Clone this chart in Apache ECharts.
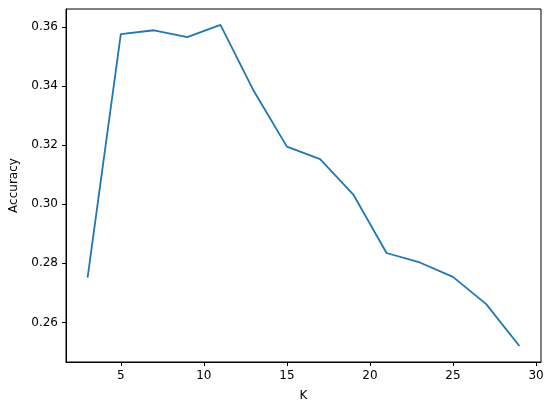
<!DOCTYPE html>
<html>
<head>
<meta charset="utf-8">
<script src="https://cdn.jsdelivr.net/npm/echarts@6/dist/echarts.min.js"></script>
<style>html,body{margin:0;padding:0;background:#fff}#c{width:550px;height:407px}</style>
</head>
<body>
<div id="c"></div>
<script>
const kValues = [3, 5, 7, 9, 11, 13, 15, 17, 19, 21, 23, 25, 27, 29];
const accuracy = [0.2752, 0.3576, 0.3589, 0.3566, 0.3607, 0.3384, 0.3195, 0.3153, 0.3033, 0.2835, 0.2803, 0.2754, 0.2662, 0.2520];
const xTicks = [5, 10, 15, 20, 25, 30];
const yTicks = [0.26, 0.28, 0.30, 0.32, 0.34, 0.36];

const font = 'DejaVu Sans';
const chart = echarts.init(document.getElementById('c'), null, {renderer: 'canvas'});
chart.setOption({
  animation: false,
  backgroundColor: '#fff',
  grid: {left: 66, right: 9, top: 9, bottom: 45, show: true, borderColor: '#000', borderWidth: 1, backgroundColor: 'transparent'},
  xAxis: {
    type: 'value', min: 1.7, max: 30.3,
    name: 'K', nameLocation: 'middle', nameGap: 28,
    nameTextStyle: {fontFamily: font, fontSize: 12, color: '#000'},
    axisLine: {show: true, onZero: false, lineStyle: {color: '#000', width: 1}},
    axisTick: {show: true, length: 4, inside: false, customValues: xTicks, lineStyle: {color: '#000'}},
    axisLabel: {customValues: xTicks, margin: 8, fontFamily: font, fontSize: 12, color: '#000', formatter: v => String(v)},
    splitLine: {show: false}
  },
  yAxis: {
    type: 'value', min: 0.2466, max: 0.3661,
    name: 'Accuracy', nameLocation: 'middle', nameGap: 46,
    nameTextStyle: {fontFamily: font, fontSize: 12, color: '#000'},
    axisLine: {show: true, onZero: false, lineStyle: {color: '#000', width: 1}},
    axisTick: {show: true, length: 4, inside: false, customValues: yTicks, lineStyle: {color: '#000'}},
    axisLabel: {customValues: yTicks, margin: 8, fontFamily: font, fontSize: 12, color: '#000', formatter: v => v.toFixed(2)},
    splitLine: {show: false}
  },
  series: [{
    type: 'line',
    data: kValues.map((k, i) => [k, accuracy[i]]),
    showSymbol: false,
    lineStyle: {color: '#1f77b4', width: 1.8},
    itemStyle: {color: '#1f77b4'}
  }]
});
</script>
</body>
</html>
